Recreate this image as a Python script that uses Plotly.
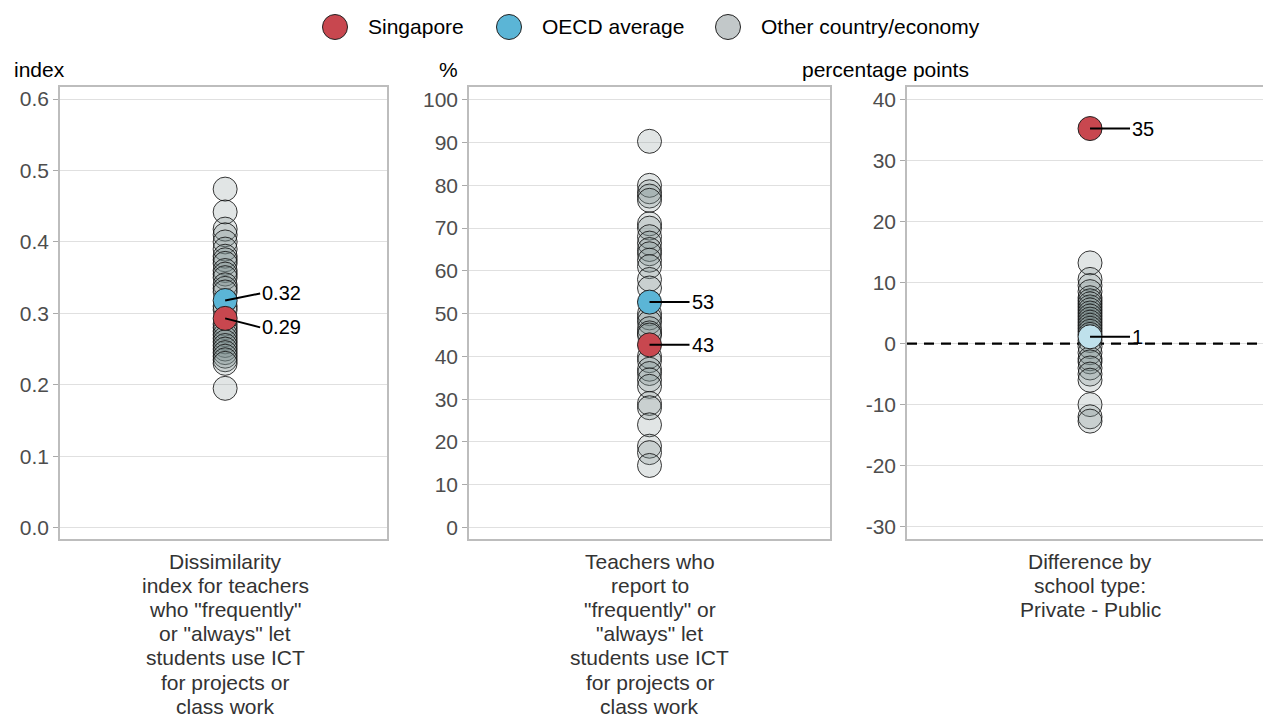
import plotly.graph_objects as go

# ---------------- data ----------------
panel_units = ["index", "%", "percentage points"]
panel_label_lines = [
    ["Dissimilarity", "index for teachers", 'who "frequently"', 'or "always" let',
     "students use ICT", "for projects or", "class work"],
    ["Teachers who", "report to", '"frequently" or', '"always" let',
     "students use ICT", "for projects or", "class work"],
    ["Difference by", "school type:", "Private - Public"],
]
others_p1 = [0.474, 0.442, 0.418, 0.41, 0.40, 0.39, 0.38, 0.375, 0.37, 0.36, 0.355, 0.35,
             0.34, 0.335, 0.33, 0.31, 0.305, 0.285, 0.28, 0.275, 0.27, 0.265, 0.26, 0.255,
             0.25, 0.245, 0.24, 0.235, 0.23, 0.195]
others_p2 = [90.3, 80, 78.5, 77.5, 76.5, 71, 70, 68, 66.5, 65, 64, 62.5, 61, 58, 56, 50, 49,
             48, 46.5, 45.5, 45, 40, 39, 37, 36, 34.5, 33, 29, 28, 24, 19, 17.5, 14.5]
others_p3 = [13.2, 10.5, 9.5, 8.5, 7.5, 7, 6.5, 6, 5.5, 5, 4.5, 4, 3.5, 3, 2.5, 2, 1.5, 0.5,
             -0.5, -1.5, -2.5, -3, -4, -5, -6, -10, -12, -12.7]
singapore = [0.293, 42.7, 35.2]
oecd = [0.318, 52.7, 1.1]
reference_value_p3 = 0
label_fmt = ["{:.2f}", "{:.0f}", "{:.0f}"]
y_ticks = [[0, 0.1, 0.2, 0.3, 0.4, 0.5, 0.6],
           list(range(0, 101, 10)),
           list(range(-30, 41, 10))]
y_tick_text = [["0.0", "0.1", "0.2", "0.3", "0.4", "0.5", "0.6"],
               [str(v) for v in range(0, 101, 10)],
               [str(v) for v in range(-30, 41, 10)]]
y_ranges = [[-0.016, 0.617], [-2.7, 103.0], [-32.0, 42.0]]
x_ranges = [[-1, 0.98], [-1, 1], [-1, 0.945]]

legend_names = ["Singapore", "OECD average", "Other country/economy"]

# ---------------- styles ----------------
W, H = 1263, 718
FONT = "Liberation Sans, Arial, sans-serif"
FS = 21
RED = "#c8474f"
BLUE = "#5bb5d6"
LIGHTBLUE = "#bfe1ec"
GRAY_FILL = "rgba(120,135,138,0.22)"
GRAY_LEGEND = "#c2c8c9"
GRID = "#e0e0e0"
BORDER = "#bdbdbd"
MSIZE = 24

top_px, bot_px = 87, 539
x_px = [(60, 387), (469, 830), (907, 1263)]
ydom = [1 - bot_px / H, 1 - top_px / H]

fig = go.Figure()
oecd_colors = [BLUE, BLUE, LIGHTBLUE]
others_all = [others_p1, others_p2, others_p3]

# dashed zero reference line in third panel (drawn first so dots sit on top)
fig.add_trace(go.Scatter(
    x=x_ranges[2], y=[reference_value_p3] * 2, xaxis="x3", yaxis="y3", mode="lines",
    line=dict(color="black", width=2.2, dash="10px,7px"), showlegend=False,
    hoverinfo="skip"))

for i in range(3):
    xa = "x" if i == 0 else f"x{i+1}"
    ya = "y" if i == 0 else f"y{i+1}"
    fig.add_trace(go.Scatter(
        x=[0] * len(others_all[i]), y=others_all[i], xaxis=xa, yaxis=ya, mode="markers",
        marker=dict(size=MSIZE, color=GRAY_FILL, line=dict(color="rgba(20,20,20,0.85)", width=1)),
        showlegend=False, hoverinfo="y"))
    fig.add_trace(go.Scatter(
        x=[0], y=[oecd[i]], xaxis=xa, yaxis=ya, mode="markers",
        marker=dict(size=MSIZE, color=oecd_colors[i], line=dict(color="#222", width=1)),
        showlegend=False, hoverinfo="y"))
    fig.add_trace(go.Scatter(
        x=[0], y=[singapore[i]], xaxis=xa, yaxis=ya, mode="markers",
        marker=dict(size=MSIZE, color=RED, line=dict(color="#222", width=1)),
        showlegend=False, hoverinfo="y"))

layout_axes = {}
for i in range(3):
    xk = "xaxis" if i == 0 else f"xaxis{i+1}"
    yk = "yaxis" if i == 0 else f"yaxis{i+1}"
    x0, x1 = x_px[i]
    layout_axes[xk] = dict(
        domain=[x0 / W, x1 / W], range=x_ranges[i], showticklabels=False,
        showgrid=False, zeroline=False, showline=True,
        linecolor=BORDER, linewidth=1.5, mirror=True, ticks="",
        anchor="y" if i == 0 else f"y{i+1}", fixedrange=True)
    layout_axes[yk] = dict(
        domain=ydom, range=y_ranges[i], tickmode="array", tickvals=y_ticks[i],
        ticktext=y_tick_text[i], showgrid=True, gridcolor=GRID, gridwidth=1, zeroline=False,
        showline=True, linecolor=BORDER, linewidth=1.5, mirror=(i < 2), ticks="outside",
        ticklen=5, tickcolor="#aaaaaa", tickfont=dict(size=FS, color="#4d4d4d", family=FONT),
        anchor="x" if i == 0 else f"x{i+1}", fixedrange=True)

fig.update_layout(
    width=W, height=H, margin=dict(l=0, r=0, t=0, b=0), paper_bgcolor="white",
    plot_bgcolor="white", showlegend=False, font=dict(family=FONT, color="black"),
    **layout_axes)

# category labels under each panel (one annotation per line for tight line spacing)
for i in range(3):
    xa = "x" if i == 0 else f"x{i+1}"
    for k, line in enumerate(panel_label_lines[i]):
        fig.add_annotation(text=line, xref=xa, yref="paper", x=0,
                           y=1 - (561 + k * 24.2) / H, xanchor="center", yanchor="middle",
                           showarrow=False, font=dict(size=FS, color="#333333", family=FONT))

# unit titles
unit_x = [12, 437, 800]
for i in range(3):
    fig.add_annotation(text=panel_units[i], xref="paper", yref="paper",
                       x=unit_x[i] / W, y=1 - 69 / H, xanchor="left", yanchor="middle",
                       showarrow=False, font=dict(size=FS, color="black", family=FONT))

# value labels with leader lines
label_offsets = [
    [(35, -7), (35, 9)],   # panel1: OECD, Singapore
    [(40, 0), (40, 0)],
    [(40, 0), (40, 0)],
]
for i in range(3):
    xa = "x" if i == 0 else f"x{i+1}"
    ya = "y" if i == 0 else f"y{i+1}"
    for j, val in enumerate([oecd[i], singapore[i]]):
        ax, ay = label_offsets[i][j]
        fig.add_annotation(x=0, y=val, xref=xa, yref=ya, text=label_fmt[i].format(val),
                           showarrow=True, arrowhead=0, arrowwidth=2, arrowcolor="black",
                           ax=ax, ay=ay, xanchor="left", yanchor="middle", standoff=0,
                           startstandoff=0,
                           font=dict(size=FS - 1, color="black", family=FONT))

# legend (drawn manually to get large symbols)
leg_colors = [RED, BLUE, GRAY_LEGEND]
leg_x = [335, 509, 728]
leg_y = 1 - 27 / H
for k in range(3):
    fig.add_shape(type="circle", xref="paper", yref="paper", xsizemode="pixel",
                  ysizemode="pixel", xanchor=leg_x[k] / W, yanchor=leg_y,
                  x0=-12.5, x1=12.5, y0=-12.5, y1=12.5, fillcolor=leg_colors[k],
                  line=dict(color="#222", width=1))
    fig.add_annotation(text=legend_names[k], xref="paper", yref="paper",
                       x=(leg_x[k] + 31) / W, y=leg_y, xanchor="left", yanchor="middle",
                       showarrow=False, font=dict(size=FS, color="black", family=FONT))

fig.write_html("out.html", config={"displayModeBar": False},
               post_script="document.body.style.margin='0';document.body.style.overflow='hidden';")
